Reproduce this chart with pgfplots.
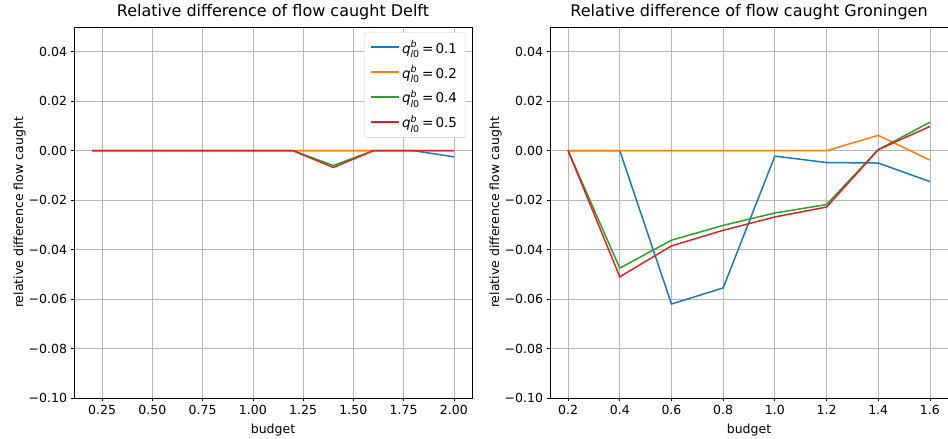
\documentclass[border=0pt]{standalone}
\usepackage{fontspec}
\setmainfont{DejaVu Sans}
\usepackage{amsmath}
\usepackage{pgfplots}
\pgfplotsset{compat=1.18}
\definecolor{tabblue}{HTML}{1F77B4}
\definecolor{taborange}{HTML}{FF7F0E}
\definecolor{tabgreen}{HTML}{2CA02C}
\definecolor{tabred}{HTML}{D62728}
\newcommand{\q}{\textit{q}$^{\textit{b}}_{\textit{l}\text{0}}$\,=\,}
\pgfplotsset{
  mystyle/.style={
    scale only axis, width=398pt, height=371pt,
    ymin=-0.1, ymax=0.05,
    ytick={-0.1,-0.08,-0.06,-0.04,-0.02,0,0.02,0.04},
    yticklabels={−0.10,−0.08,−0.06,−0.04,−0.02,0.00,0.02,0.04},
    grid=major, major grid style={color=black!28, line width=0.8pt},
    axis line style={line width=0.8pt},
    tick style={black, line width=0.8pt},
    tick align=outside, major tick length=3.5pt,
    tick label style={font=\fontsize{12.5}{14}\selectfont},
    label style={font=\fontsize{12.5}{14}\selectfont},
    title style={font=\fontsize{16}{19}\selectfont, yshift=-2pt},
    xlabel={budget}, ylabel={relative difference flow caught},
    xlabel style={yshift=-3pt},
    ylabel style={yshift=-4pt},
    every axis plot/.append style={line width=1.5pt, no marks},
    xtick pos=bottom, ytick pos=left,
    /pgf/number format/assume math mode=true,
  }
}
\begin{document}
\begin{tikzpicture}[x=1pt,y=1pt]
\useasboundingbox (0,0) rectangle (948,439);
\begin{axis}[mystyle, at={(74pt,41pt)}, anchor=south west,
  title={Relative difference of flow caught Delft},
  xmin=0.11, xmax=2.09,
  xtick={0.25,0.5,0.75,1,1.25,1.5,1.75,2},
  xticklabels={0.25,0.50,0.75,1.00,1.25,1.50,1.75,2.00},
  legend style={at={(0.983,0.985)}, anchor=north east,
    font=\fontsize{13.5}{16}\selectfont, draw=black!20, rounded corners=2pt,
    row sep=9pt, inner xsep=6pt, inner ysep=7pt,
    nodes={inner ysep=1pt}},
  legend cell align=left,
  legend image code/.code={\path[#1, draw, line width=1.8pt, sharp corners] (0pt,0.5pt) -- (28pt,0.5pt);},
]
\addplot[tabblue] coordinates {(0.2,0)(0.4,0)(0.6,0)(0.8,0)(1.0,0)(1.2,0)(1.4,0)(1.6,0)(1.8,0)(2.0,-0.0025)};
\addlegendentry{\q 0.1}
\addplot[taborange] coordinates {(0.2,0)(0.4,0)(0.6,0)(0.8,0)(1.0,0)(1.2,0)(1.4,0)(1.6,0)(1.8,0)(2.0,0)};
\addlegendentry{\q 0.2}
\addplot[tabgreen] coordinates {(0.2,0)(0.4,0)(0.6,0)(0.8,0)(1.0,0)(1.2,0)(1.4,-0.006)(1.6,0)(1.8,0)(2.0,0)};
\addlegendentry{\q 0.4}
\addplot[tabred] coordinates {(0.2,0)(0.4,0)(0.6,0)(0.8,0)(1.0,0)(1.2,0)(1.4,-0.0068)(1.6,0)(1.8,0)(2.0,0)};
\addlegendentry{\q 0.5}
\end{axis}
\begin{axis}[mystyle, at={(550pt,41pt)}, anchor=south west,
  title={Relative difference of flow caught Groningen},
  xmin=0.13, xmax=1.67,
  xtick={0.2,0.4,0.6,0.8,1.0,1.2,1.4,1.6},
  xticklabels={0.2,0.4,0.6,0.8,1.0,1.2,1.4,1.6},
]
\addplot[tabblue] coordinates {(0.2,0)(0.4,0)(0.6,-0.062)(0.8,-0.0555)(1.0,-0.0022)(1.2,-0.0048)(1.4,-0.005)(1.6,-0.0125)};
\addplot[taborange] coordinates {(0.2,0)(0.4,0)(0.6,0)(0.8,0)(1.0,0)(1.2,0)(1.4,0.0062)(1.6,-0.0038)};
\addplot[tabgreen] coordinates {(0.2,0)(0.4,-0.0475)(0.6,-0.0362)(0.8,-0.0302)(1.0,-0.0252)(1.2,-0.0218)(1.4,0.0004)(1.6,0.0115)};
\addplot[tabred] coordinates {(0.2,0)(0.4,-0.051)(0.6,-0.0385)(0.8,-0.0322)(1.0,-0.0268)(1.2,-0.0228)(1.4,0.0004)(1.6,0.0098)};
\end{axis}
\end{tikzpicture}
\end{document}
